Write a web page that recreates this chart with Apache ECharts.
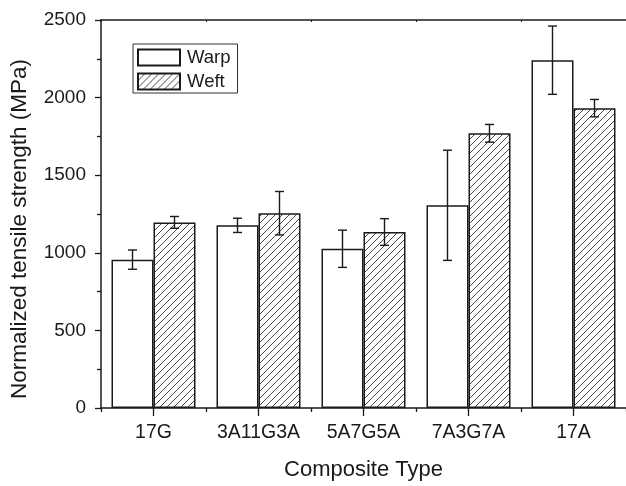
<!DOCTYPE html>
<html>
<head>
<meta charset="utf-8">
<script src="https://cdn.jsdelivr.net/npm/echarts@6/dist/echarts.min.js"></script>
<style>html,body{margin:0;padding:0;background:#fff;}#c{width:626px;height:486px;}</style>
</head>
<body>
<div id="c"></div>
<script>
const categories = ['17G', '3A11G3A', '5A7G5A', '7A3G7A', '17A'];
const warpValues = [956, 1177, 1026, 1306, 2241];
const warpErrors = [62, 46, 120, 355, 220];
const weftValues = [1196, 1255, 1134, 1770, 1932];
const weftErrors = [38, 140, 86, 57, 56];
const yTicks = [0, 500, 1000, 1500, 2000, 2500];

const FONT = 'Liberation Sans, Arial, sans-serif';
const INK = '#1a1a1a';

function hatch() {
  const s = 7;
  const cv = document.createElement('canvas');
  cv.width = s; cv.height = s;
  const g = cv.getContext('2d');
  g.fillStyle = '#fff';
  g.fillRect(0, 0, s, s);
  g.strokeStyle = '#333';
  g.lineWidth = 0.9;
  g.beginPath();
  g.moveTo(-1, s + 1); g.lineTo(s + 1, -1);
  g.moveTo(-1, 1); g.lineTo(1, -1);
  g.moveTo(s - 1, s + 1); g.lineTo(s + 1, s - 1);
  g.stroke();
  return cv;
}

const chart = echarts.init(document.getElementById('c'), null, {renderer: 'canvas'});

function errSeries(values, errors, side) {
  return {
    type: 'custom',
    xAxisIndex: 0,
    yAxisIndex: 0,
    silent: true,
    z: 5,
    data: values.map((v, i) => [i, v, errors[i]]),
    renderItem: function (params, api) {
      const i = api.value(0), v = api.value(1), e = api.value(2);
      const band = api.size([1, 0])[0];
      const dx = side * band * 0.2;
      const top = api.coord([i, v + e]);
      const bot = api.coord([i, v - e]);
      const x = top[0] + dx;
      const cap = 4.5;
      const st = {stroke: INK, lineWidth: 1.4};
      return {
        type: 'group',
        children: [
          {type: 'line', shape: {x1: x, y1: top[1], x2: x, y2: bot[1]}, style: st},
          {type: 'line', shape: {x1: x - cap, y1: top[1], x2: x + cap, y2: top[1]}, style: st},
          {type: 'line', shape: {x1: x - cap, y1: bot[1], x2: x + cap, y2: bot[1]}, style: st}
        ]
      };
    }
  };
}

const axisLineStyle = {color: INK, width: 1.5};

chart.setOption({
  animation: false,
  backgroundColor: '#fff',
  grid: {left: 101, top: 20, width: 528, height: 393, containLabel: false},
  legend: {
    orient: 'vertical',
    left: 133, top: 44,
    itemWidth: 42, itemHeight: 16,
    itemGap: 5,
    padding: [4, 7, 2, 4],
    borderColor: '#333', borderWidth: 1,
    textStyle: {fontFamily: FONT, fontSize: 18.5, color: INK, lineHeight: 16, padding: [0, 0, 0, 2]},
    data: [{name: 'Warp', icon: 'rect'}, {name: 'Weft', icon: 'rect'}]
  },
  xAxis: [
    {
      type: 'category', data: categories, position: 'bottom',
      axisLine: {show: true, lineStyle: axisLineStyle},
      axisTick: {show: true, interval: 0, length: 4, lineStyle: {color: INK, width: 1.3}},
      axisLabel: {show: true, interval: 0, margin: 15, fontFamily: FONT, fontSize: 19.5, color: INK},
      name: 'Composite Type', nameLocation: 'middle', nameGap: 51,
      nameTextStyle: {fontFamily: FONT, fontSize: 22, color: INK},
      splitLine: {show: false}
    },
    {
      type: 'category', data: categories, position: 'bottom',
      axisLine: {show: false},
      axisTick: {show: true, interval: 0, alignWithLabel: true, length: 8, lineStyle: {color: INK, width: 1.3}},
      axisLabel: {show: false, interval: 0},
      splitLine: {show: false}
    },
    {
      type: 'category', data: categories, position: 'top',
      axisLine: {show: true, lineStyle: axisLineStyle},
      axisTick: {show: true, interval: 0, inside: true, length: 2, lineStyle: {color: INK, width: 1}},
      axisLabel: {show: false, interval: 0},
      splitLine: {show: false}
    }
  ],
  yAxis: {
    type: 'value', min: yTicks[0], max: yTicks[yTicks.length - 1], interval: 500,
    axisLine: {show: true, lineStyle: axisLineStyle},
    axisTick: {show: true, length: 6, lineStyle: {color: INK, width: 1.3}},
    minorTick: {show: true, splitNumber: 2, length: 4, lineStyle: {color: INK, width: 1.3}},
    axisLabel: {margin: 15, fontFamily: FONT, fontSize: 19, color: INK, formatter: v => String(v)},
    splitLine: {show: false},
    name: 'Normalized tensile strength (MPa)', nameLocation: 'middle', nameGap: 70,
    nameTextStyle: {fontFamily: FONT, fontSize: 22.5, color: INK, padding: [0, 30, 0, 0]}
  },
  series: [
    {
      name: 'Warp', type: 'bar', xAxisIndex: 0, barWidth: '40%', barGap: '0%',
      data: warpValues,
      itemStyle: {color: '#fff', borderColor: INK, borderWidth: 1.5}
    },
    {
      name: 'Weft', type: 'bar', xAxisIndex: 0, barWidth: '40%', barGap: '0%',
      data: weftValues,
      itemStyle: {color: {image: hatch(), repeat: 'repeat'}, borderColor: INK, borderWidth: 1.5}
    },
    errSeries(warpValues, warpErrors, -1),
    errSeries(weftValues, weftErrors, 1)
  ]
});
</script>
</body>
</html>
